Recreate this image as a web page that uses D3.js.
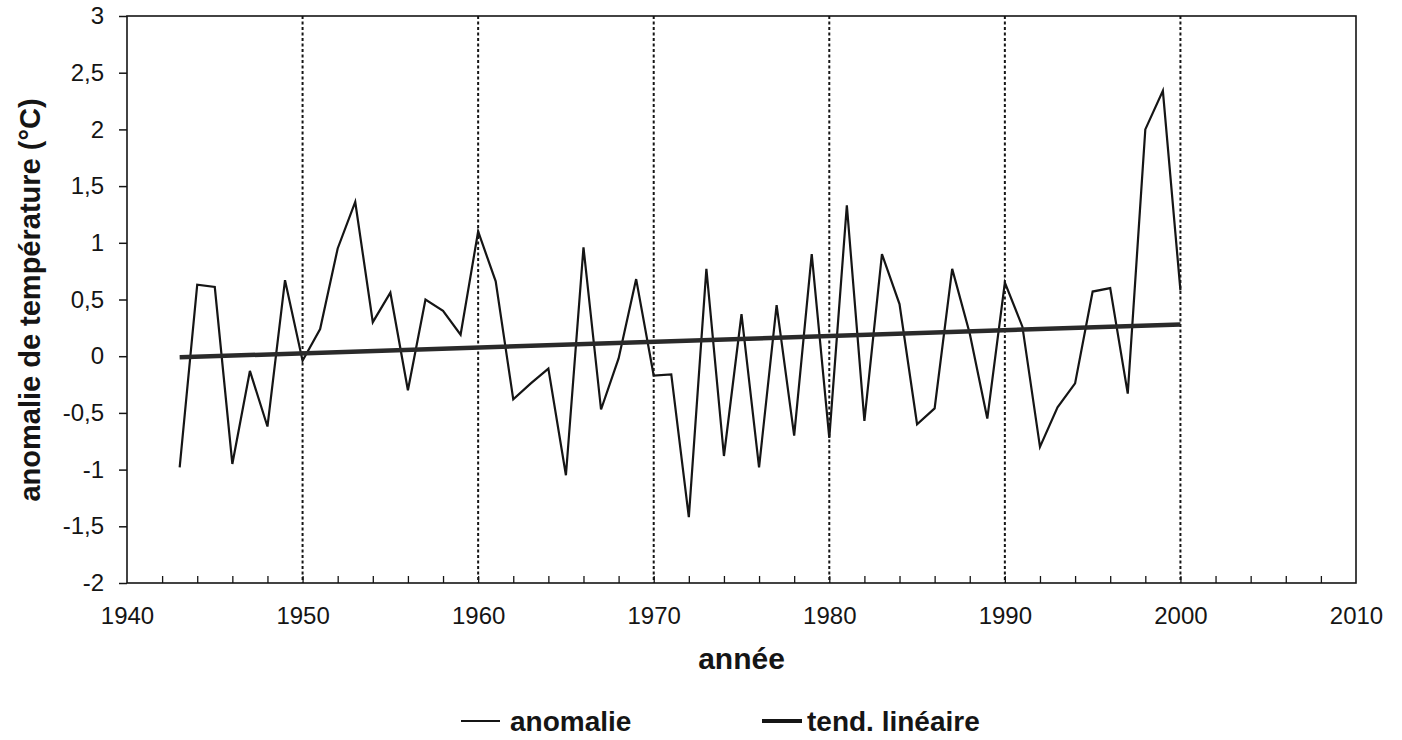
<!DOCTYPE html>
<html>
<head>
<meta charset="utf-8">
<script src="https://cdn.jsdelivr.net/npm/d3@7"></script>
<style>
  body { margin: 0; background: #fff; }
  svg { display: block; font-family: "Liberation Sans", Arial, sans-serif; }
</style>
</head>
<body>
<div id="chart"></div>
<script>
const width = 1402;
const height = 740;

// anomalie annuelle (°C), 1943-2000
const years = d3.range(1943, 2001);
const anomalie = [
  -0.98, 0.63, 0.61, -0.95, -0.13, -0.62, 0.67,
  -0.04, 0.24, 0.95, 1.36, 0.30, 0.56, -0.30, 0.50, 0.40, 0.19,
  1.10, 0.66, -0.38, -0.24, -0.11, -1.05, 0.96, -0.47, -0.02, 0.68,
  -0.17, -0.16, -1.42, 0.77, -0.88, 0.37, -0.98, 0.45, -0.70, 0.90,
  -0.72, 1.33, -0.57, 0.90, 0.46, -0.60, -0.46, 0.77, 0.20, -0.55,
  0.65, 0.26, -0.80, -0.45, -0.24, 0.57, 0.60, -0.33, 2.00, 2.34,
  0.58
];

// tendance linéaire (extrémités)
const trendYears = [1943, 2000];
const trendValues = [-0.01, 0.28];

const yTicks = [-2, -1.5, -1, -0.5, 0, 0.5, 1, 1.5, 2, 2.5, 3];
const xLabels = [1940, 1950, 1960, 1970, 1980, 1990, 2000, 2010];
const gridYears = [1950, 1960, 1970, 1980, 1990, 2000];

const plotLeft = 127, plotRight = 1356, plotTop = 16, plotBottom = 583;

const svg = d3.select("#chart").append("svg")
  .attr("width", width)
  .attr("height", height);

const x = d3.scaleLinear().domain([1940, 2010]).range([plotLeft, plotRight]);
const y = d3.scaleLinear().domain([-2, 3]).range([plotBottom, plotTop]);

const ink = "#151515";

// gridlines (dotted)
svg.append("g")
  .selectAll("line")
  .data(gridYears)
  .join("line")
  .attr("x1", d => x(d)).attr("x2", d => x(d))
  .attr("y1", plotTop).attr("y2", plotBottom)
  .attr("stroke", ink)
  .attr("stroke-width", 2)
  .attr("stroke-dasharray", "3,2.5");

// minor ticks every 2 years, pointing inward
const minor = svg.append("g")
  .attr("transform", `translate(0,${plotBottom})`)
  .call(d3.axisBottom(x).tickValues(d3.range(1942, 2010, 2)).tickSize(-7).tickFormat(""));
minor.select(".domain").remove();
minor.selectAll("line").attr("stroke", ink).attr("stroke-width", 1.3);

// x labels
const xAxis = svg.append("g")
  .attr("transform", `translate(0,${plotBottom})`)
  .call(d3.axisBottom(x).tickValues(xLabels).tickSize(0).tickPadding(24).tickFormat(d3.format("d")));
xAxis.select(".domain").remove();
xAxis.selectAll("text")
  .attr("font-size", 24)
  .attr("fill", ink)
  .attr("font-family", "Liberation Sans, Arial, sans-serif");

// y axis (virgule décimale, tiret simple)
const fmt = d => String(d).replace(".", ",");
const yAxis = svg.append("g")
  .attr("transform", `translate(${plotLeft},0)`)
  .call(d3.axisLeft(y).tickValues(yTicks).tickSize(8).tickPadding(15).tickFormat(fmt));
yAxis.select(".domain").remove();
yAxis.selectAll("line").attr("stroke", ink).attr("stroke-width", 1.5);
yAxis.selectAll("text")
  .attr("font-size", 24)
  .attr("fill", ink)
  .attr("font-family", "Liberation Sans, Arial, sans-serif");

// frame
svg.append("rect")
  .attr("x", plotLeft).attr("y", plotTop)
  .attr("width", plotRight - plotLeft).attr("height", plotBottom - plotTop)
  .attr("fill", "none")
  .attr("stroke", ink)
  .attr("stroke-width", 1.6);

// anomalie line
const line = d3.line()
  .x((d, i) => x(years[i]))
  .y(d => y(d));

svg.append("path")
  .datum(anomalie)
  .attr("d", line)
  .attr("fill", "none")
  .attr("stroke", ink)
  .attr("stroke-width", 2.2)
  .attr("stroke-linejoin", "miter");

// trend line
const trendLine = d3.line()
  .x((d, i) => x(trendYears[i]))
  .y(d => y(d));

svg.append("path")
  .datum(trendValues)
  .attr("d", trendLine)
  .attr("fill", "none")
  .attr("stroke", "#2a2a2a")
  .attr("stroke-width", 4.5);

// axis titles
svg.append("text")
  .attr("x", (plotLeft + plotRight) / 2)
  .attr("y", 669)
  .attr("text-anchor", "middle")
  .attr("font-size", 30)
  .attr("font-weight", "bold")
  .attr("fill", ink)
  .text("année");

svg.append("text")
  .attr("transform", "translate(40,300) rotate(-90)")
  .attr("text-anchor", "middle")
  .attr("font-size", 29)
  .attr("font-weight", "bold")
  .attr("fill", ink)
  .text("anomalie de température (°C)");

// legend
const legend = [
  { name: "anomalie", x1: 461, x2: 500, w: 1.8 },
  { name: "tend. linéaire", x1: 762, x2: 802, w: 4 }
];
const lg = svg.append("g");
lg.selectAll("line")
  .data(legend)
  .join("line")
  .attr("x1", d => d.x1).attr("x2", d => d.x2)
  .attr("y1", 721).attr("y2", 721)
  .attr("stroke", ink)
  .attr("stroke-width", d => d.w);
lg.selectAll("text")
  .data(legend)
  .join("text")
  .attr("x", d => d.x2 + (d.w > 2 ? 5 : 10))
  .attr("y", 731)
  .attr("font-size", 28)
  .attr("font-weight", "bold")
  .attr("fill", ink)
  .text(d => d.name);
</script>
</body>
</html>
